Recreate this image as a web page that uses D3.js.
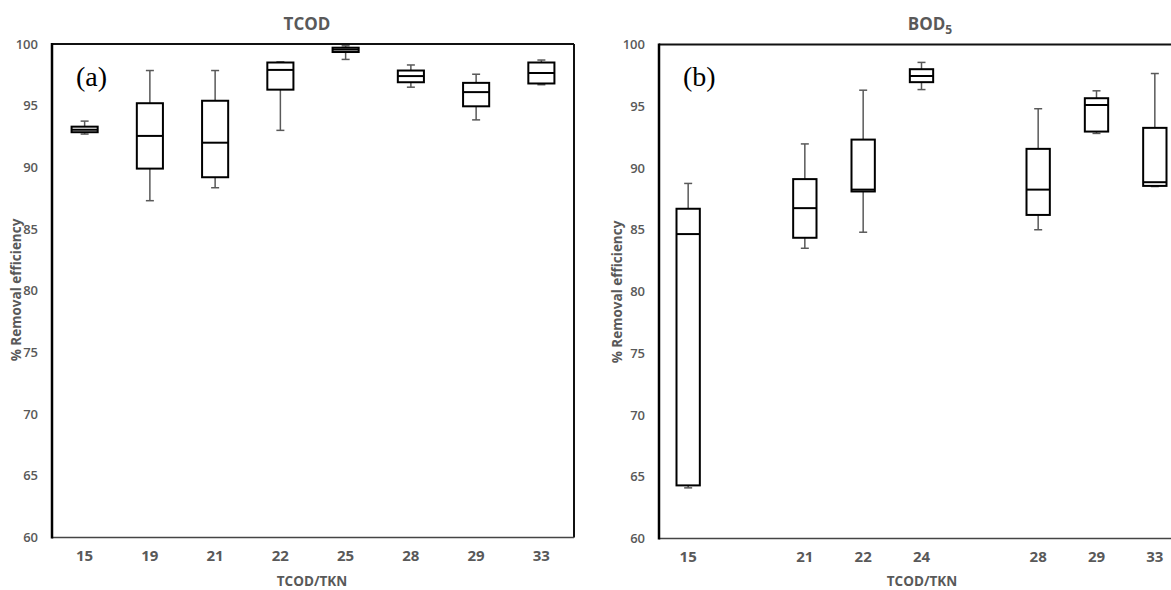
<!DOCTYPE html>
<html><head><meta charset="utf-8">
<script src="https://cdn.jsdelivr.net/npm/d3@7"></script>
<style>body{margin:0;background:#fff} svg{display:block;font-family:"Open Sans",sans-serif}</style>
</head><body><svg id="c" width="1171" height="590"></svg>
<script>
// Panel (a) TCOD
const catsA = ["15","19","21","22","25","28","29","33"];
const minA = [92.7, 87.3, 88.35, 93.0, 98.75, 96.5, 93.85, 96.7];
const q1A  = [92.85, 89.9, 89.2, 96.3, 99.35, 96.9, 94.95, 96.8];
const medA = [93.05, 92.55, 92.0, 97.9, 99.55, 97.4, 96.1, 97.65];
const q3A  = [93.3, 95.2, 95.4, 98.5, 99.7, 97.85, 96.85, 98.5];
const maxA = [93.75, 97.85, 97.85, 98.55, 99.85, 98.3, 97.55, 98.7];

// Panel (b) BOD5 (axis has two empty slots)
const slotsB = ["15","gap1","21","22","24","gap2","28","29","33"];
const catsB = ["15","21","22","24","28","29","33"];
const minB = [64.1, 83.5, 84.8, 96.35, 85.0, 92.8, 88.5];
const q1B  = [64.3, 84.35, 88.1, 96.95, 86.2, 92.95, 88.55];
const medB = [84.65, 86.75, 88.25, 97.45, 88.25, 95.1, 88.85];
const q3B  = [86.7, 89.1, 92.3, 98.0, 91.55, 95.65, 93.25];
const maxB = [88.75, 91.95, 96.3, 98.55, 94.8, 96.25, 97.65];

const yTicks = [60,65,70,75,80,85,90,95,100];
const grey = "#595959";

const svg = d3.select("#c");

function panel(cfg) {
  const x = d3.scaleBand().domain(cfg.slots).range([cfg.x0, cfg.x1]).paddingInner(0).paddingOuter(0);
  const y = d3.scaleLinear().domain([60, 100]).range([cfg.yb, cfg.yt]);
  const g = svg.append("g");
  const bw = x.bandwidth() * 0.4;
  const cap = 8;
  const data = cfg.cats.map((c, i) => ({c, min: cfg.min[i], q1: cfg.q1[i], med: cfg.med[i], q3: cfg.q3[i], max: cfg.max[i]}));

  // frame
  g.append("line").attr("x1", cfg.x0).attr("x2", cfg.x1).attr("y1", cfg.yt).attr("y2", cfg.yt)
    .attr("stroke", "#111").attr("stroke-width", 2);
  if (cfg.x1 <= 1171) g.append("line").attr("x1", cfg.x1).attr("x2", cfg.x1).attr("y1", cfg.yt).attr("y2", cfg.yb)
    .attr("stroke", "#111").attr("stroke-width", 2);
  g.append("line").attr("x1", cfg.x0).attr("x2", cfg.x1).attr("y1", cfg.yb).attr("y2", cfg.yb)
    .attr("stroke", "#444").attr("stroke-width", 1.5);
  g.append("line").attr("x1", cfg.x0).attr("x2", cfg.x0).attr("y1", cfg.yt - 1).attr("y2", cfg.yb + 1)
    .attr("stroke", "#000").attr("stroke-width", 2.5);

  // axes
  const ya = g.append("g").attr("transform", `translate(${cfg.x0},0)`)
    .call(d3.axisLeft(y).tickValues(yTicks).tickSize(0).tickPadding(14));
  ya.select(".domain").remove();
  ya.selectAll("text").attr("fill", grey).style("font-size", "13px").style("font-family", "'Open Sans', sans-serif").style("font-weight", "600");

  const xa = g.append("g").attr("transform", `translate(0,${cfg.yb})`)
    .call(d3.axisBottom(x).tickValues(cfg.cats).tickSize(0).tickPadding(13));
  xa.select(".domain").remove();
  xa.selectAll("text").attr("fill", grey).style("font-size", "15px").style("font-family", "'Open Sans', sans-serif").style("font-weight", "700");

  // boxes
  const b = g.selectAll(".box").data(data).enter().append("g");
  const cx = d => x(d.c) + x.bandwidth() / 2;
  b.append("line").attr("x1", cx).attr("x2", cx).attr("y1", d => y(d.max)).attr("y2", d => y(d.q3))
    .attr("stroke", grey).attr("stroke-width", 1.5);
  b.append("line").attr("x1", cx).attr("x2", cx).attr("y1", d => y(d.q1)).attr("y2", d => y(d.min))
    .attr("stroke", grey).attr("stroke-width", 1.5);
  b.append("line").attr("x1", d => cx(d) - cap / 2).attr("x2", d => cx(d) + cap / 2).attr("y1", d => y(d.max)).attr("y2", d => y(d.max))
    .attr("stroke", grey).attr("stroke-width", 1.5);
  b.append("line").attr("x1", d => cx(d) - cap / 2).attr("x2", d => cx(d) + cap / 2).attr("y1", d => y(d.min)).attr("y2", d => y(d.min))
    .attr("stroke", grey).attr("stroke-width", 1.5);
  b.append("rect").attr("x", d => cx(d) - bw / 2).attr("width", bw)
    .attr("y", d => y(d.q3)).attr("height", d => Math.max(0.5, y(d.q1) - y(d.q3)))
    .attr("fill", "#fff").attr("stroke", "#000").attr("stroke-width", 2);
  b.append("line").attr("x1", d => cx(d) - bw / 2).attr("x2", d => cx(d) + bw / 2).attr("y1", d => y(d.med)).attr("y2", d => y(d.med))
    .attr("stroke", "#000").attr("stroke-width", 2);

  // panel letter
  g.append("text").attr("x", cfg.x0 + 24).attr("y", 86).text(cfg.letter)
    .style("font-family", "'Liberation Serif', 'Times New Roman', serif").style("font-size", "28px").attr("fill", "#000");

  // titles
  const t = g.append("text").attr("x", cfg.tx).attr("y", 30).attr("text-anchor", "middle")
    .attr("fill", grey).style("font-size", "17px").style("font-weight", "700");
  t.append("tspan").text(cfg.title);
  if (cfg.sub) t.append("tspan").text(cfg.sub).attr("dy", 4).style("font-size", "12px");

  g.append("text").attr("x", cfg.xt).attr("y", 586).attr("text-anchor", "middle")
    .attr("fill", grey).style("font-size", "13.5px").style("font-weight", "700").text("TCOD/TKN");

  g.append("text").attr("transform", `translate(${cfg.ylx},${cfg.yly}) rotate(-90)`).attr("text-anchor", "middle")
    .attr("fill", grey).style("font-size", "13.5px").style("font-weight", "700").text("% Removal efficiency");
}

panel({slots: catsA, cats: catsA, min: minA, q1: q1A, med: medA, q3: q3A, max: maxA,
  x0: 52, x1: 574, yt: 44, yb: 537.5, letter: "(a)", title: "TCOD", tx: 307, xt: 312, ylx: 21, yly: 290});
panel({slots: slotsB, cats: catsB, min: minB, q1: q1B, med: medB, q3: q3B, max: maxB,
  x0: 659, x1: 1184, yt: 44.5, yb: 538.5, letter: "(b)", title: "BOD", sub: "5", tx: 930, xt: 922, ylx: 622, yly: 292});
</script></body></html>
